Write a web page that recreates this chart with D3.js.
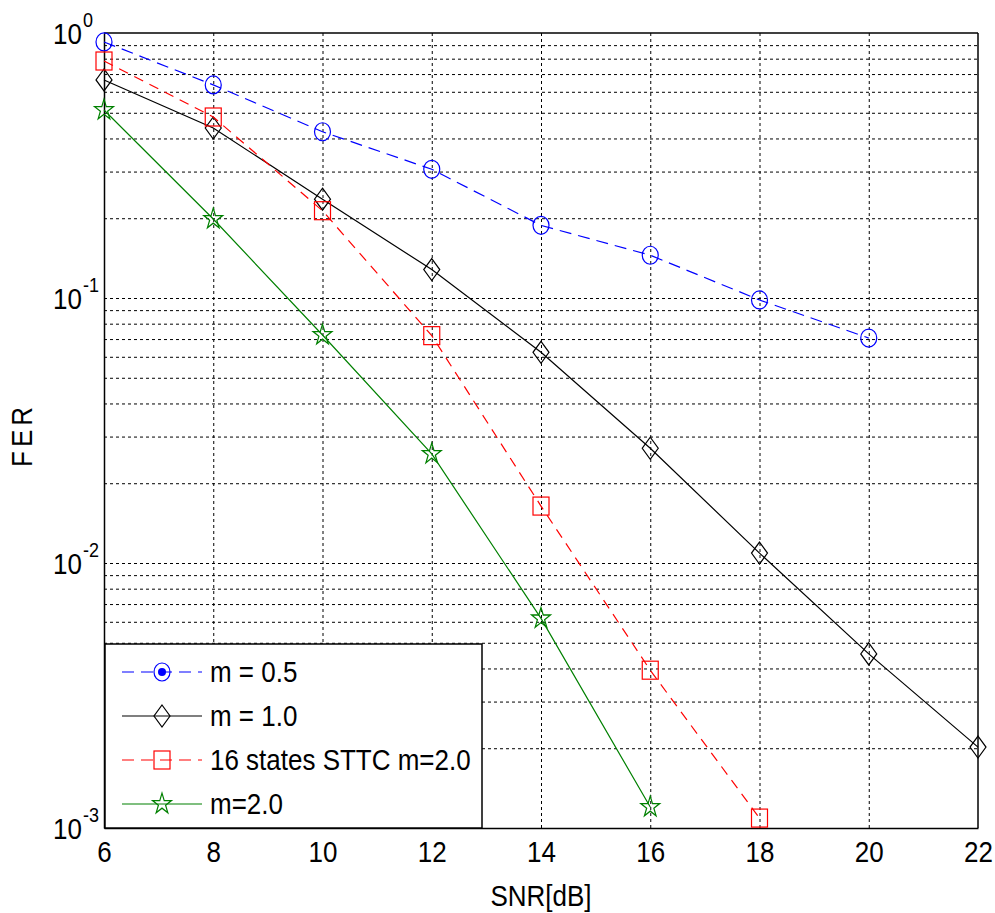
<!DOCTYPE html>
<html>
<head>
<meta charset="utf-8">
<script src="https://cdn.jsdelivr.net/npm/d3@7"></script>
<style>
  body { margin: 0; background: #fff; }
  text { font-family: "Liberation Sans", Arial, sans-serif; fill: #000; }
</style>
</head>
<body>
<div id="chart"></div>
<script>
const snr = [6, 8, 10, 12, 14, 16, 18, 20, 22]
const ferM05 = [0.925, 0.637, 0.424, 0.306, 0.188, 0.145, 0.0983, 0.0706]
const ferM10 = [0.665, 0.438, 0.236, 0.128, 0.0624, 0.0271, 0.0109, 0.00454, 0.00202]
const ferSttc = [0.784, 0.482, 0.2135, 0.0721, 0.0164, 0.00394, 0.00109]
const ferM20 = [0.512, 0.1987, 0.0725, 0.0258, 0.00618, 0.0012]
const xTicks = [6, 8, 10, 12, 14, 16, 18, 20, 22]
const yTicks = [1, 0.1, 0.01, 0.001]
const yExp = ['0', '-1', '-2', '-3']

const width = 995, height = 913
const margin = {top: 33, right: 17, bottom: 85, left: 104}
const w = width - margin.left - margin.right
const h = height - margin.top - margin.bottom
const stretch = 1.15  // text in the picture is drawn a bit taller than wide

const series = [
  {name: 'm = 0.5', values: ferM05, color: '#0000ff', dash: '12,7', marker: 'circle'},
  {name: 'm = 1.0', values: ferM10, color: '#000000', dash: null, marker: 'diamond'},
  {name: '16 states STTC m=2.0', values: ferSttc, color: '#ff0000', dash: '10,7', marker: 'square'},
  {name: 'm=2.0', values: ferM20, color: '#008000', dash: null, marker: 'star'}
]

const xScale = d3.scaleLinear().domain([6, 22]).range([0, w])
const yScale = d3.scaleLog().domain([0.001, 1]).range([h, 0])

const svg = d3.select('#chart').append('svg')
  .attr('width', width)
  .attr('height', height)
const g = svg.append('g')
  .attr('transform', `translate(${margin.left}, ${margin.top})`)

// grid lines
const minor = []
yTicks.slice(1).forEach(d => { for (let k = 1; k <= 9; k++) minor.push(d * k) })
g.append('g').attr('class', 'ygrid')
  .call(d3.axisLeft(yScale).tickValues(minor.filter(v => v < 1 && v > 0.001))
    .tickSize(-w).tickFormat(''))
  .call(s => s.select('.domain').remove())
  .selectAll('line')
  .attr('stroke', '#000').attr('stroke-width', 1).attr('stroke-dasharray', '3,3')
g.append('g').attr('class', 'xgrid')
  .attr('transform', `translate(0, ${h})`)
  .call(d3.axisBottom(xScale).tickValues(xTicks.slice(1, -1)).tickSize(-h).tickFormat(''))
  .call(s => s.select('.domain').remove())
  .selectAll('line')
  .attr('stroke', '#000').attr('stroke-width', 1).attr('stroke-dasharray', '3,3')

// axes
const xAxis = g.append('g')
  .attr('transform', `translate(0, ${h})`)
  .call(d3.axisBottom(xScale).tickValues(xTicks).tickSize(0))
xAxis.selectAll('.tick text')
  .attr('font-size', 26).attr('dy', null).attr('y', 34 / stretch)
  .attr('transform', `scale(1, ${stretch})`)
xAxis.select('.domain').attr('stroke', '#000').attr('stroke-width', 1.5)

const yAxis = g.append('g')
  .call(d3.axisLeft(yScale).tickValues(yTicks).tickSize(0).tickFormat(''))
yAxis.select('.domain').attr('stroke', '#000').attr('stroke-width', 1.5)
yAxis.selectAll('.tick text')
  .attr('text-anchor', 'start')
  .attr('dy', null).attr('x', -51).attr('y', 10 / stretch)
  .attr('transform', `scale(1, ${stretch})`)
  .each(function(d, i) {
    const t = d3.select(this)
    t.append('tspan').attr('font-size', 26).text('10')
    t.append('tspan').attr('font-size', 18).attr('dy', -14).attr('dx', 1).text(yExp[i])
  })

// box top/right
g.append('line').attr('x1', 0).attr('x2', w).attr('y1', 0).attr('y2', 0)
  .attr('stroke', '#000').attr('stroke-width', 1.5)
g.append('line').attr('x1', w).attr('x2', w).attr('y1', 0).attr('y2', h)
  .attr('stroke', '#000').attr('stroke-width', 1.5)

// markers
function drawMarker(sel, type, color) {
  if (type === 'circle') {
    sel.append('ellipse').attr('rx', 8).attr('ry', 9)
      .attr('fill', 'none').attr('stroke', color).attr('stroke-width', 1.2)
  } else if (type === 'square') {
    sel.append('rect').attr('x', -8).attr('y', -9).attr('width', 16).attr('height', 18)
      .attr('fill', 'none').attr('stroke', color).attr('stroke-width', 1.2)
  } else if (type === 'diamond') {
    sel.append('path').attr('d', 'M0,-11L8,0L0,11L-8,0Z')
      .attr('fill', 'none').attr('stroke', color).attr('stroke-width', 1.2)
  } else {
    sel.append('path')
      .attr('d', d3.symbol(d3.symbolStar, 110)())
      .attr('transform', 'scale(1,1.1)')
      .attr('fill', 'none').attr('stroke', color).attr('stroke-width', 1.2)
  }
}

const line = d3.line()
  .x((d, i) => xScale(snr[i]))
  .y(d => yScale(d))

series.forEach(s => {
  g.append('path')
    .datum(s.values)
    .attr('d', line)
    .attr('fill', 'none')
    .attr('stroke', s.color)
    .attr('stroke-width', 1.2)
    .attr('stroke-dasharray', s.dash)
  g.selectAll(null)
    .data(s.values)
    .join('g')
    .attr('transform', (d, i) => `translate(${xScale(snr[i])}, ${yScale(d)})`)
    .each(function() { drawMarker(d3.select(this), s.marker, s.color) })
})

// legend
const legend = g.append('g').attr('transform', `translate(1, ${h - 184})`)
legend.append('rect')
  .attr('width', 377).attr('height', 184)
  .attr('fill', '#fff').attr('stroke', '#000').attr('stroke-width', 1.5)
series.forEach((s, i) => {
  const row = legend.append('g').attr('transform', `translate(0, ${28 + i * 44})`)
  row.append('line').attr('x1', 17).attr('x2', 97)
    .attr('stroke', s.color).attr('stroke-width', 1.2)
    .attr('stroke-dasharray', s.dash ? '12,7' : null)
  const m = row.append('g').attr('transform', 'translate(57, 0)')
  drawMarker(m, s.marker, s.color)
  if (s.marker === 'circle') m.append('circle').attr('r', 4).attr('fill', s.color)
  row.append('text').attr('x', 105).attr('y', 10 / stretch).attr('font-size', 26)
    .attr('transform', `scale(1, ${stretch})`)
    .text(s.name)
})

// labels
svg.append('text')
  .attr('transform', `translate(${margin.left + w / 2}, 906) scale(1, ${stretch})`)
  .attr('text-anchor', 'middle').attr('font-size', 26)
  .text('SNR[dB]')
svg.append('text')
  .attr('transform', `translate(32, 435) rotate(-90) scale(1, ${stretch})`)
  .attr('text-anchor', 'middle').attr('font-size', 26)
  .attr('letter-spacing', 4)
  .text('FER')
</script>
</body>
</html>
